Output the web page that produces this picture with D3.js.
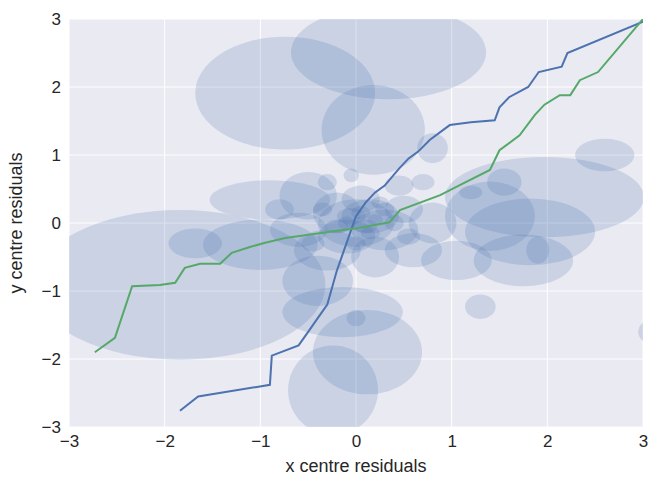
<!DOCTYPE html>
<html><head><meta charset="utf-8">
<script src="https://cdn.jsdelivr.net/npm/d3@7"></script>
<style>body{margin:0;background:#fff}</style>
</head><body>
<script>
// ellipses: [cx, cy, rx, ry] in data units
const ellipses = [
  [-1.84,-0.91,1.52,1.1],[-0.74,1.91,0.94,0.83],[0.34,2.51,1.02,0.69],[0.18,1.37,0.54,0.66],
  [1.97,0.38,1.04,0.59],[1.82,-0.13,0.68,0.49],[1.75,-0.55,0.52,0.38],[0.12,-1.9,0.57,0.62],
  [-0.24,-2.46,0.47,0.66],[-0.14,-1.31,0.63,0.37],[-0.9,0.34,0.63,0.29],[-1.0,-0.32,0.6,0.37],
  [-1.68,-0.3,0.28,0.22],[2.6,1.0,0.31,0.24],[1.3,-1.23,0.16,0.18],[3.1,-1.6,0.15,0.18],
  [0.8,1.1,0.16,0.22],[-0.4,-0.85,0.37,0.37],[1.05,-0.55,0.37,0.29],[1.4,0.1,0.47,0.51],
  [-0.5,0.4,0.3,0.35],[0.0,0.0,0.4,0.35],[0.15,0.1,0.3,0.25],[-0.2,0.15,0.25,0.3],
  [0.3,-0.1,0.35,0.3],[-0.1,-0.2,0.3,0.25],[0.5,0.2,0.2,0.2],[-0.3,-0.4,0.35,0.3],
  [0.6,-0.4,0.3,0.25],[0.05,0.35,0.2,0.2],[-0.6,-0.1,0.3,0.25],[0.8,0.0,0.25,0.3],
  [0.2,-0.5,0.25,0.3],[-0.05,0.1,0.15,0.12],[0.1,-0.05,0.12,0.1],[-0.8,0.2,0.15,0.15],
  [1.55,0.6,0.18,0.2],[1.9,-0.4,0.12,0.2],[0.45,0.55,0.15,0.15],[-0.3,0.6,0.1,0.12],
  [0.0,-1.4,0.1,0.12],[-0.05,0.7,0.08,0.1],[1.2,0.45,0.12,0.1],[0.7,0.6,0.12,0.12],
  [0.05,0.15,0.1,0.1],[0.2,0.05,0.08,0.08],[-0.1,0.0,0.09,0.1],[0.15,-0.15,0.1,0.09],
  [0.3,0.2,0.1,0.1],[-0.2,-0.05,0.12,0.1],[0.4,0.0,0.1,0.12],[0.0,-0.3,0.1,0.1],
  [-0.35,0.2,0.1,0.1],[0.25,0.3,0.09,0.09],[0.55,-0.2,0.12,0.12],[-0.45,-0.3,0.12,0.12]
];
const blueX = [-1.84,-1.65,-0.9,-0.88,-0.6,-0.5,-0.4,-0.3,-0.2,-0.1,0,0.1,0.2,0.3,0.45,0.55,0.65,0.77,0.98,1.2,1.45,1.5,1.6,1.8,1.91,2.15,2.21,3.0];
const blueY = [-2.76,-2.55,-2.38,-1.95,-1.8,-1.6,-1.4,-1.2,-0.7,-0.3,0.1,0.3,0.45,0.55,0.8,0.95,1.05,1.22,1.44,1.48,1.51,1.7,1.85,2.0,2.22,2.3,2.5,2.96];
const greenX = [-2.73,-2.52,-2.34,-2.05,-1.89,-1.79,-1.63,-1.42,-1.3,-1.1,-0.95,-0.74,-0.27,0.04,0.35,0.46,0.88,1.09,1.4,1.5,1.71,1.87,1.97,2.13,2.24,2.34,2.53,3.0];
const greenY = [-1.9,-1.69,-0.93,-0.91,-0.88,-0.66,-0.6,-0.6,-0.44,-0.35,-0.29,-0.22,-0.13,-0.07,0.01,0.19,0.41,0.56,0.78,1.07,1.29,1.59,1.74,1.88,1.88,2.1,2.22,3.0];
const ticks = [-3,-2,-1,0,1,2,3];

const W = 667, H = 480, m = {l:69, r:24, t:19, b:53};
const svg = d3.select("body").append("svg").attr("width", W).attr("height", H)
  .style("font-family", "Liberation Sans, Arial, sans-serif");
const x = d3.scaleLinear().domain([-3,3]).range([m.l, W-m.r]);
const y = d3.scaleLinear().domain([-3,3]).range([H-m.b, m.t]);

svg.append("clipPath").attr("id","c").append("rect")
  .attr("x", m.l).attr("y", m.t).attr("width", W-m.l-m.r).attr("height", H-m.t-m.b);
svg.append("rect").attr("x", m.l).attr("y", m.t).attr("width", W-m.l-m.r).attr("height", H-m.t-m.b)
  .attr("fill", "#EAEAF2");

const g = svg.append("g").attr("clip-path", "url(#c)");
ticks.forEach(t => {
  g.append("line").attr("x1", x(t)).attr("x2", x(t)).attr("y1", m.t).attr("y2", H-m.b).attr("stroke","#fff").attr("stroke-width",1);
  g.append("line").attr("y1", y(t)).attr("y2", y(t)).attr("x1", m.l).attr("x2", W-m.r).attr("stroke","#fff").attr("stroke-width",1);
});
g.selectAll("ellipse").data(ellipses).join("ellipse")
  .attr("cx", d => x(d[0])).attr("cy", d => y(d[1]))
  .attr("rx", d => x(d[2]) - x(0)).attr("ry", d => y(0) - y(d[3]))
  .attr("fill", "#4C72B0").attr("fill-opacity", 0.2);

const line = d3.line().x(d => x(d[0])).y(d => y(d[1]));
g.append("path").attr("d", line(d3.zip(blueX, blueY))).attr("fill","none").attr("stroke","#4C72B0").attr("stroke-width",2);
g.append("path").attr("d", line(d3.zip(greenX, greenY))).attr("fill","none").attr("stroke","#55A868").attr("stroke-width",2);

const xa = svg.append("g").attr("transform", `translate(0,${H-m.b})`)
  .call(d3.axisBottom(x).tickValues(ticks).tickSize(0).tickPadding(8).tickFormat(d => d < 0 ? "\u2212" + (-d) : d));
const ya = svg.append("g").attr("transform", `translate(${m.l},0)`)
  .call(d3.axisLeft(y).tickValues(ticks).tickSize(0).tickPadding(8).tickFormat(d => d < 0 ? "\u2212" + (-d) : d));
[xa, ya].forEach(a => { a.select(".domain").remove(); a.selectAll("text").attr("font-size", 17).attr("fill", "#262626").style("font-family","Liberation Sans, Arial, sans-serif"); });

svg.append("text").attr("x", (m.l + W - m.r)/2).attr("y", H-8).attr("text-anchor","middle")
  .attr("font-size", 18).attr("fill","#262626").text("x centre residuals");
svg.append("text").attr("transform", `translate(22,${(m.t + H - m.b)/2}) rotate(-90)`).attr("text-anchor","middle")
  .attr("font-size", 18).attr("fill","#262626").text("y centre residuals");
</script>
</body></html>
